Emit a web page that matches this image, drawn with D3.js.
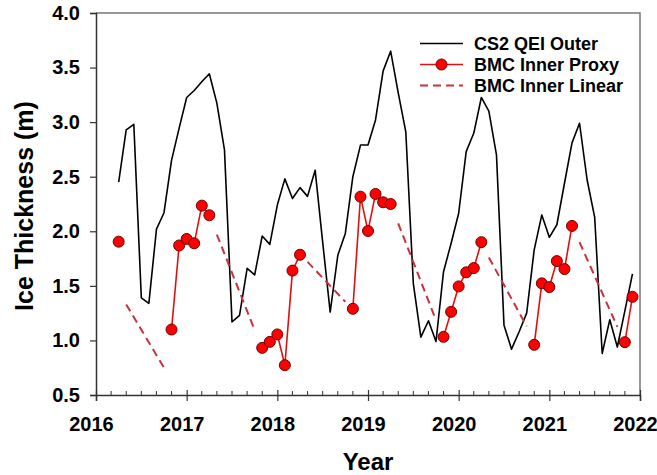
<!DOCTYPE html>
<html>
<head>
<meta charset="utf-8">
<script src="https://cdnjs.cloudflare.com/ajax/libs/d3/7.8.5/d3.min.js"></script>
<style>
  body { margin: 0; background: #fff; }
  text { font-family: Arial, 'Liberation Sans', sans-serif; font-weight: bold; fill: #000; }
</style>
</head>
<body>
<script>
// Ice thickness chart: CS2 outer series, BMC inner proxy and linear gap fills

// CS2 QEI Outer (monthly, decimal years)
const cs2Years = [
    2016.25, 2016.333, 2016.417, 2016.5, 2016.583, 2016.667, 2016.75, 2016.833, 2016.917,
    2017.0, 2017.083, 2017.167, 2017.25, 2017.333, 2017.417, 2017.5, 2017.583, 2017.667, 2017.75, 2017.833, 2017.917,
    2018.0, 2018.083, 2018.167, 2018.25, 2018.333, 2018.417, 2018.5, 2018.583, 2018.667, 2018.75, 2018.833, 2018.917,
    2019.0, 2019.083, 2019.167, 2019.25, 2019.333, 2019.417, 2019.5, 2019.583, 2019.667, 2019.75, 2019.833, 2019.917,
    2020.0, 2020.083, 2020.167, 2020.25, 2020.333, 2020.417, 2020.5, 2020.583, 2020.667, 2020.75, 2020.833, 2020.917,
    2021.0, 2021.083, 2021.167, 2021.25, 2021.333, 2021.417, 2021.5, 2021.583, 2021.667, 2021.75, 2021.833, 2021.917
];
const cs2Values = [
    2.45, 2.93, 2.98, 1.39, 1.34, 2.02, 2.17, 2.65, 2.945,
    3.226, 3.29, 3.37, 3.443, 3.174, 2.746, 1.17, 1.23, 1.66, 1.60, 1.957, 1.88,
    2.24, 2.48, 2.30, 2.40, 2.32, 2.56, 1.90, 1.26, 1.78, 1.98, 2.50, 2.79,
    2.79, 3.02, 3.47, 3.65, 3.27, 2.91, 1.52, 1.03, 1.18, 0.99, 1.63, 1.89,
    2.165, 2.73, 2.90, 3.226, 3.10, 2.70, 1.14, 0.92, 1.08, 1.25, 1.83, 2.15,
    1.945, 2.06, 2.44, 2.81, 2.99, 2.47, 2.13, 0.88, 1.19, 0.94, 1.27, 1.61
];

// BMC Inner Proxy (null = no proxy value, the line breaks there)
const proxyYears = [
    2016.25, 2016.333,
    2016.833, 2016.917, 2017.0, 2017.083, 2017.167, 2017.25, 2017.333,
    2017.833, 2017.917, 2018.0, 2018.083, 2018.167, 2018.25, 2018.333,
    2018.833, 2018.917, 2019.0, 2019.083, 2019.167, 2019.25, 2019.333,
    2019.833, 2019.917, 2020.0, 2020.083, 2020.167, 2020.25, 2020.333,
    2020.833, 2020.917, 2021.0, 2021.083, 2021.167, 2021.25, 2021.333,
    2021.833, 2021.917
];
const proxyValues = [
    1.905, null,
    1.10, 1.87, 1.93, 1.89, 2.235, 2.147, null,
    0.932, 0.987, 1.055, 0.773, 1.64, 1.785, null,
    1.29, 2.317, 2.003, 2.342, 2.266, 2.25, null,
    1.033, 1.262, 1.495, 1.624, 1.663, 1.90, null,
    0.96, 1.523, 1.489, 1.727, 1.654, 2.049, null,
    0.984, 1.40
];

// BMC Inner Linear segments: [startYear, startValue, endYear, endValue]
const linearSegments = [
    [2016.333, 1.33, 2016.75, 0.75],
    [2017.333, 1.97, 2017.75, 1.095],
    [2018.333, 1.72, 2018.75, 1.354],
    [2019.333, 2.073, 2019.75, 1.186],
    [2020.333, 1.76, 2020.75, 1.13],
    [2021.333, 1.90, 2021.75, 1.125]
];

const xTicks = [2016, 2017, 2018, 2019, 2020, 2021, 2022];
const yTicks = [0.5, 1.0, 1.5, 2.0, 2.5, 3.0, 3.5, 4.0];
const legendLabels = ['CS2 QEI Outer', 'BMC Inner Proxy', 'BMC Inner Linear'];

const proxyColor = '#dd1111';
const linearColor = '#c8323c';

// Define the dimensions and create the SVG container
const width = 657;
const height = 475;
const margin = { top: 13, right: 17, bottom: 80, left: 96 };

const svg = d3.select('body').append('svg')
    .attr('width', width)
    .attr('height', height);

const x = d3.scaleLinear().domain([2016, 2022]).range([margin.left, width - margin.right]);
const y = d3.scaleLinear().domain([0.5, 4.0]).range([height - margin.bottom, margin.top]);

// Frame: gray top and right edges
svg.append('path')
    .attr('d', `M${x(2016)},${y(4)}H${x(2022)}V${y(0.5)}`)
    .attr('fill', 'none')
    .attr('stroke', '#777')
    .attr('stroke-width', 1.5);

// Minor x ticks every two months, pointing into the plot
const minorTicks = d3.range(2016, 2022, 1 / 6).filter(t => Math.abs(t - Math.round(t)) > 0.01);
svg.append('g')
    .selectAll('line')
    .data(minorTicks)
    .enter().append('line')
    .attr('x1', d => x(d)).attr('x2', d => x(d))
    .attr('y1', y(0.5) - 4).attr('y2', y(0.5))
    .attr('stroke', '#333');

// X axis
const xAxis = svg.append('g')
    .attr('transform', `translate(0,${y(0.5)})`)
    .call(d3.axisBottom(x).tickValues(xTicks).tickFormat(d3.format('d')).tickSize(6).tickPadding(0));
xAxis.select('.domain').attr('stroke', '#333').attr('stroke-width', 1.5);
xAxis.selectAll('.tick line').attr('y1', -5).attr('stroke', '#333').attr('stroke-width', 1.2);
xAxis.selectAll('.tick text')
    .attr('y', 36).attr('dy', null).attr('dx', -5)
    .style('font-size', '20px');

// Y axis
const yAxis = svg.append('g')
    .attr('transform', `translate(${x(2016)},0)`)
    .call(d3.axisLeft(y).tickValues(yTicks).tickFormat(d3.format('.1f')).tickSize(6).tickPadding(10));
yAxis.select('.domain').attr('stroke', '#333').attr('stroke-width', 1.5);
yAxis.selectAll('.tick line').attr('stroke', '#333').attr('stroke-width', 1.2);
yAxis.selectAll('.tick text').style('font-size', '20px');

// Axis titles
svg.append('text')
    .attr('x', (x(2016) + x(2022)) / 2)
    .attr('y', 470)
    .attr('text-anchor', 'middle')
    .style('font-size', '24px')
    .text('Year');

svg.append('text')
    .attr('transform', `translate(33,${(y(0.5) + y(4)) / 2 + 2}) rotate(-90)`)
    .attr('text-anchor', 'middle')
    .style('font-size', '25px')
    .text('Ice Thickness (m)');

// CS2 line
const cs2 = cs2Years.map((t, i) => [t, cs2Values[i]]);
svg.append('path')
    .datum(cs2)
    .attr('d', d3.line().x(d => x(d[0])).y(d => y(d[1])))
    .attr('fill', 'none')
    .attr('stroke', '#000')
    .attr('stroke-width', 1.6)
    .attr('stroke-linejoin', 'round');

// Linear dashed segments
svg.append('g')
    .selectAll('line')
    .data(linearSegments)
    .enter().append('line')
    .attr('x1', d => x(d[0])).attr('y1', d => y(d[1]))
    .attr('x2', d => x(d[2])).attr('y2', d => y(d[3]))
    .attr('stroke', linearColor)
    .attr('stroke-width', 2)
    .attr('stroke-dasharray', '8,5');

// Proxy line and markers
const proxy = proxyYears.map((t, i) => [t, proxyValues[i]]);
svg.append('path')
    .datum(proxy)
    .attr('d', d3.line().defined(d => d[1] !== null).x(d => x(d[0])).y(d => y(d[1])))
    .attr('fill', 'none')
    .attr('stroke', proxyColor)
    .attr('stroke-width', 1.6);

svg.append('g')
    .selectAll('circle')
    .data(proxy.filter(d => d[1] !== null))
    .enter().append('circle')
    .attr('cx', d => x(d[0]))
    .attr('cy', d => y(d[1]))
    .attr('r', 5.5)
    .attr('fill', '#ff0000')
    .attr('stroke', '#700000')
    .attr('stroke-width', 1);

// Legend
const legend = svg.append('g')
    .selectAll('g')
    .data(legendLabels)
    .enter().append('g')
    .attr('transform', (d, i) => `translate(420,${43.5 + i * 21})`);

legend.append('line')
    .attr('x1', 0).attr('x2', 43)
    .attr('stroke', (d, i) => i === 0 ? '#000' : (i === 1 ? proxyColor : linearColor))
    .attr('stroke-width', (d, i) => i === 2 ? 2 : 1.6)
    .attr('stroke-dasharray', (d, i) => i === 2 ? '8,5' : null);

legend.filter((d, i) => i === 1).append('circle')
    .attr('cx', 21.5)
    .attr('r', 5.5)
    .attr('fill', '#ff0000')
    .attr('stroke', '#700000');

legend.append('text')
    .attr('x', 54)
    .attr('y', 6.5)
    .style('font-size', '18px')
    .text(d => d);
</script>
</body>
</html>
